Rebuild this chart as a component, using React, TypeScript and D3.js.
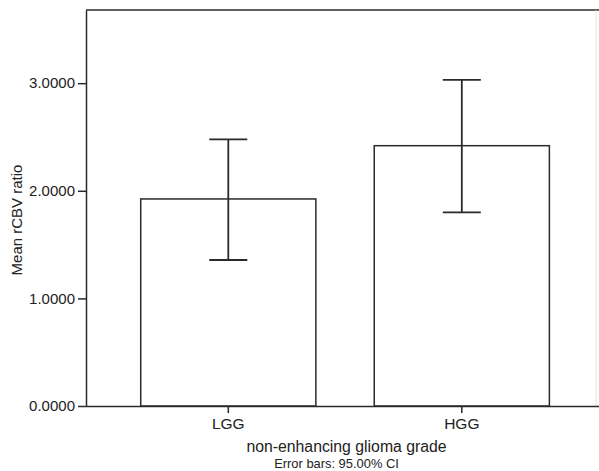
import React, { useEffect, useRef } from "react";
import * as d3 from "d3";

const categories = ["LGG", "HGG"];
const means = [1.924, 2.419];
const ciLow = [1.357, 1.8];
const ciHigh = [2.478, 3.03];
const yTicks = [0, 1, 2, 3];

const App = () => {
  const svgRef = useRef<SVGSVGElement>(null);

  useEffect(() => {
    const svg = d3.select(svgRef.current);
    svg.selectAll("*").remove();

    const width = 599;
    const height = 471;
    const margin = { top: 10, right: 3, bottom: 65, left: 86 };
    const x0 = margin.left;
    const x1 = width - margin.right;
    const y0 = height - margin.bottom;
    const font = "'Liberation Sans', Arial, Helvetica, sans-serif";
    const ink = "#2a2a2a";

    svg.attr("width", width).attr("height", height);

    const xScale = d3
      .scaleBand()
      .domain(categories)
      .range([x0, x1])
      .paddingInner(0.25)
      .paddingOuter(0.217)
      .align(0.54);

    const yScale = d3.scaleLinear().domain([0, 3.68]).range([y0, margin.top]);

    const data = categories.map((c, i) => ({
      cat: c,
      mean: means[i],
      lo: ciLow[i],
      hi: ciHigh[i],
    }));

    // frame: top line and faint right edge
    svg
      .append("line")
      .attr("x1", x0)
      .attr("x2", width)
      .attr("y1", margin.top)
      .attr("y2", margin.top)
      .attr("stroke", ink)
      .attr("stroke-width", 1.5);
    svg
      .append("line")
      .attr("x1", x1)
      .attr("x2", x1)
      .attr("y1", margin.top)
      .attr("y2", y0)
      .attr("stroke", "#e4e4e4")
      .attr("stroke-width", 1);

    // Bars
    svg
      .selectAll(".bar")
      .data(data)
      .enter()
      .append("rect")
      .attr("class", "bar")
      .attr("x", (d) => xScale(d.cat)!)
      .attr("y", (d) => yScale(d.mean))
      .attr("width", xScale.bandwidth())
      .attr("height", (d) => y0 - yScale(d.mean))
      .attr("fill", "white")
      .attr("stroke", ink)
      .attr("stroke-width", 1.5);

    // Error bars
    const capHalf = 19;
    const eb = svg
      .selectAll(".err")
      .data(data)
      .enter()
      .append("g")
      .attr("class", "err")
      .attr("stroke", ink)
      .attr("stroke-width", 1.8);
    eb.append("line")
      .attr("x1", (d) => xScale(d.cat)! + xScale.bandwidth() / 2)
      .attr("x2", (d) => xScale(d.cat)! + xScale.bandwidth() / 2)
      .attr("y1", (d) => yScale(d.lo))
      .attr("y2", (d) => yScale(d.hi));
    eb.append("line")
      .attr("x1", (d) => xScale(d.cat)! + xScale.bandwidth() / 2 - capHalf)
      .attr("x2", (d) => xScale(d.cat)! + xScale.bandwidth() / 2 + capHalf)
      .attr("y1", (d) => yScale(d.hi))
      .attr("y2", (d) => yScale(d.hi));
    eb.append("line")
      .attr("x1", (d) => xScale(d.cat)! + xScale.bandwidth() / 2 - capHalf)
      .attr("x2", (d) => xScale(d.cat)! + xScale.bandwidth() / 2 + capHalf)
      .attr("y1", (d) => yScale(d.lo))
      .attr("y2", (d) => yScale(d.lo));

    // Y axis
    const yAxis = svg
      .append("g")
      .attr("transform", `translate(${x0},0)`)
      .call(
        d3
          .axisLeft(yScale)
          .tickValues(yTicks)
          .tickFormat((d) => d3.format(".4f")(d as number))
          .tickSize(8)
          .tickPadding(3)
          .tickSizeOuter(0)
      );
    yAxis.select(".domain").attr("stroke", ink).attr("stroke-width", 1.5);
    yAxis.selectAll(".tick line").attr("stroke", ink).attr("stroke-width", 1.5);
    yAxis
      .selectAll(".tick text")
      .attr("font-family", font)
      .attr("font-size", "15px")
      .attr("fill", "#222");

    // X axis
    const xAxis = svg
      .append("g")
      .attr("transform", `translate(0,${y0})`)
      .call(d3.axisBottom(xScale).tickSize(7).tickPadding(5).tickSizeOuter(0));
    xAxis
      .select(".domain")
      .attr("d", `M${x0},0.5H${width}`)
      .attr("stroke", ink)
      .attr("stroke-width", 1.5);
    xAxis.selectAll(".tick line").attr("stroke", ink).attr("stroke-width", 1.5);
    xAxis
      .selectAll(".tick text")
      .attr("font-family", font)
      .attr("font-size", "15.5px")
      .attr("fill", "#222");

    // Axis titles
    svg
      .append("text")
      .attr("transform", `translate(22,220) rotate(-90)`)
      .attr("text-anchor", "middle")
      .attr("font-family", font)
      .attr("font-size", "15px")
      .attr("fill", "#222")
      .text("Mean rCBV ratio");

    svg
      .append("text")
      .attr("x", 346.5)
      .attr("y", 451.5)
      .attr("text-anchor", "middle")
      .attr("font-family", font)
      .attr("font-size", "15.8px")
      .attr("fill", "#222")
      .text("non-enhancing glioma grade");

    svg
      .append("text")
      .attr("x", 336.5)
      .attr("y", 468)
      .attr("text-anchor", "middle")
      .attr("font-family", font)
      .attr("font-size", "12.9px")
      .attr("fill", "#222")
      .text("Error bars: 95.00% CI");
  }, []);

  return (
    <div style={{ position: "absolute", left: 0, top: 0, background: "white" }}>
      <svg ref={svgRef} style={{ display: "block" }}></svg>
    </div>
  );
};

export default App;
